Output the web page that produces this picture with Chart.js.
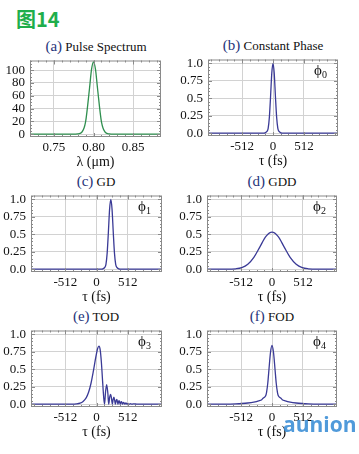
<!DOCTYPE html>
<html>
<head>
<meta charset="utf-8">
<script src="https://cdn.jsdelivr.net/npm/chart.js@4.4.0/dist/chart.umd.min.js"></script>
<style>
  body { margin: 0; background: #fff; width: 359px; height: 454px; position: relative; overflow: hidden; font-family: "Liberation Serif", serif; }
  canvas { position: absolute; }
  .ttl { position: absolute; font-size: 13px; color: #111; white-space: nowrap; transform: translate(-50%, -50%); }
  .ttl span { font-size: 15px; color: #26337a; }
  #head { position: absolute; left: 16px; top: 4px; font: bold 20px "Noto Sans CJK SC", sans-serif; color: #1fae4b; }
  #wm { position: absolute; left: 283px; top: 410px; font: bold 21px "Open Sans", sans-serif; color: #3d8fd6; opacity: 0.9; }
</style>
</head>
<body>
<div id="head">图14</div>

<div class="ttl" style="left:96px;top:46px"><span>(a)</span> Pulse Spectrum</div>
<div class="ttl" style="left:273px;top:45px"><span>(b)</span> Constant Phase</div>
<div class="ttl" style="left:96px;top:181px"><span>(c)</span> GD</div>
<div class="ttl" style="left:272px;top:181px"><span>(d)</span> GDD</div>
<div class="ttl" style="left:96px;top:316px"><span>(e)</span> TOD</div>
<div class="ttl" style="left:272px;top:316px"><span>(f)</span> FOD</div>

<canvas id="cA" width="167" height="122" style="left:0px;top:49px"></canvas>
<canvas id="cB" width="166" height="122" style="left:178px;top:48px"></canvas>
<canvas id="cC" width="167" height="122" style="left:1px;top:184px"></canvas>
<canvas id="cD" width="166" height="122" style="left:177px;top:184px"></canvas>
<canvas id="cE" width="167" height="122" style="left:1px;top:319px"></canvas>
<canvas id="cF" width="166" height="122" style="left:177px;top:319px"></canvas>

<div id="wm">aunion</div>

<script>
// (a) pulse spectrum
const lambda = [0.72, 0.77, 0.775, 0.78, 0.785, 0.79, 0.795, 0.7975, 0.80, 0.8025, 0.805, 0.81, 0.815, 0.82, 0.825, 0.83, 0.885];
const spectrum = [0, 0, 0, 0.3, 2.5, 19, 72, 101, 113, 101, 72, 19, 2.5, 0.3, 0, 0, 0];

// (b) constant phase
const tau0 = [-1075, -200, -160, -130, -100, -80, -60, -40, -20, 0, 20, 40, 60, 80, 100, 130, 160, 200, 1075];
const amp0 = [0, 0, 0.002, 0.006, 0.025, 0.07, 0.23, 0.53, 0.86, 1.0, 0.86, 0.53, 0.23, 0.07, 0.025, 0.006, 0.002, 0, 0];

// (c) GD
const tau1 = [-1075, 35, 75, 105, 135, 155, 175, 195, 215, 235, 255, 275, 295, 315, 335, 365, 395, 435, 1075];
const amp1 = [0, 0, 0.002, 0.006, 0.025, 0.07, 0.23, 0.53, 0.86, 1.0, 0.86, 0.53, 0.23, 0.07, 0.025, 0.006, 0.002, 0, 0];

// (d) GDD
const tau2 = [-1075, -750, -600, -500, -400, -300, -200, -100, 0, 100, 200, 300, 400, 500, 600, 750, 1075];
const amp2 = [0, 0, 0.006, 0.023, 0.072, 0.17, 0.32, 0.47, 0.53, 0.47, 0.32, 0.17, 0.072, 0.023, 0.006, 0, 0];

// (e) TOD
const tau3 = [-1075, -400, -330, -270, -220, -170, -130, -90, -50, -10, 20, 40, 60, 80, 100, 118, 132, 148, 167, 186, 200,
  216, 232, 248, 260, 273, 286, 299, 310, 322, 334, 344, 353, 363, 372, 381, 390, 400, 410, 419, 428, 438, 447, 456, 465,
  475, 484, 493, 502, 520, 540, 560, 580, 600, 640, 700, 1075];
const amp3 = [0, 0, 0.004, 0.015, 0.04, 0.09, 0.17, 0.3, 0.48, 0.68, 0.8, 0.83, 0.78, 0.6, 0.33, 0.1, 0, 0.17, 0.28, 0.16, 0,
  0.1, 0.14, 0.07, 0, 0.07, 0.1, 0.05, 0, 0.05, 0.07, 0.035, 0, 0.04, 0.05, 0.025, 0, 0.03, 0.035, 0.015, 0, 0.022, 0.025, 0.01, 0,
  0.015, 0.018, 0.008, 0, 0.012, 0, 0.008, 0, 0.005, 0.003, 0, 0];

// (f) FOD
const tau4 = [-1075, -800, -600, -500, -400, -300, -220, -170, -148, -125, -105, -90, -70, -50, -25, 0, 25, 50, 70, 90, 105, 125, 148, 170, 220, 300, 400, 500, 600, 800, 1075];
const amp4 = [0, 0.002, 0.006, 0.01, 0.017, 0.03, 0.048, 0.065, 0.085, 0.1, 0.12, 0.17, 0.3, 0.5, 0.74, 0.84, 0.74, 0.5, 0.3, 0.17, 0.12, 0.1, 0.085, 0.065, 0.048, 0.03, 0.017, 0.01, 0.006, 0.002, 0];

// ticks
const lambdaTicks = [0.75, 0.80, 0.85];
const lambdaLabels = ['0.75', '0.80', '0.85'];
const spectrumTicks = [0, 20, 40, 60, 80, 100];
const spectrumLabels = ['0', '20', '40', '60', '80', '100'];
const tauTicks = [-512, 0, 512];
const tauLabels = ['-512', '0', '512'];
const ampTicks = [0, 0.25, 0.5, 0.75, 1];
const ampLabels = ['0.0', '0.25', '0.5', '0.75', '1.0'];

const blue = '#3a3a96';
const green = '#2f8f4f';
const serif = '"Liberation Serif", serif';

// frame with inward ticks on all sides, plus the phi label
const frameTicks = {
  id: 'frameTicks',
  afterDatasetsDraw(chart, args, o) {
    const { ctx, chartArea: a, scales: { x, y } } = chart;
    ctx.save();
    ctx.strokeStyle = '#8a8a8a';
    ctx.lineWidth = 1;
    ctx.strokeRect(a.left + 0.5, a.top + 0.5, a.right - a.left - 1, a.bottom - a.top - 1);
    ctx.beginPath();
    const xs = (v, len) => {
      const p = Math.round(x.getPixelForValue(v)) + 0.5;
      ctx.moveTo(p, a.bottom); ctx.lineTo(p, a.bottom - len);
      ctx.moveTo(p, a.top); ctx.lineTo(p, a.top + len);
    };
    const ys = (v, len) => {
      const p = Math.round(y.getPixelForValue(v)) + 0.5;
      ctx.moveTo(a.left, p); ctx.lineTo(a.left + len, p);
      ctx.moveTo(a.right, p); ctx.lineTo(a.right - len, p);
    };
    for (let v = o.xFrom; v <= x.max; v += o.xStep) xs(v, 2);
    for (let v = o.yFrom; v <= y.max; v += o.yStep) ys(v, 2);
    x.ticks.forEach(t => xs(t.value, 4));
    y.ticks.forEach(t => ys(t.value, 4));
    ctx.stroke();
    if (o.phi) {
      ctx.fillStyle = '#111';
      ctx.textBaseline = 'middle';
      ctx.font = '15px ' + serif;
      ctx.fillText('ϕ', a.right - 24, a.top + 12);
      ctx.font = '10px ' + serif;
      ctx.fillText(o.phi, a.right - 16, a.top + 16);
    }
    ctx.restore();
  }
};

function makeChart(id, xs, ys, color, opt) {
  const pts = xs.map((v, i) => ({ x: v, y: ys[i] }));
  return new Chart(document.getElementById(id), {
    type: 'line',
    data: {
      datasets: [{
        data: pts,
        borderColor: color,
        borderWidth: 1.3,
        pointRadius: 0,
        cubicInterpolationMode: 'monotone',
        fill: false
      }]
    },
    options: {
      responsive: false,
      animation: false,
      devicePixelRatio: 1,
      layout: { padding: { top: 8, right: 6, left: 0, bottom: 0 } },
      plugins: {
        legend: { display: false },
        tooltip: { enabled: false },
        frameTicks: opt.frame
      },
      scales: {
        x: {
          type: 'linear',
          min: opt.xMin,
          max: opt.xMax,
          afterBuildTicks: s => { s.ticks = opt.xTicks.map(v => ({ value: v })); },
          afterFit: s => { s.height = 34; },
          ticks: {
            callback: (v, i) => opt.xLabels[i],
            font: { family: serif, size: 13, lineHeight: 1 },
            color: '#111',
            padding: 4,
            maxRotation: 0,
            autoSkip: false
          },
          grid: { color: '#d2d2d2', drawTicks: false },
          border: { display: false },
          title: {
            display: true,
            text: opt.xTitle,
            font: { family: serif, size: 14, lineHeight: 1 },
            color: '#111',
            padding: { top: 0, bottom: 2 }
          }
        },
        y: {
          min: opt.yMin,
          max: opt.yMax,
          afterBuildTicks: s => { s.ticks = opt.yTicks.map(v => ({ value: v })); },
          afterFit: s => { s.width = 30; },
          ticks: {
            callback: (v, i) => opt.yLabels[i],
            font: { family: serif, size: 13, lineHeight: 1 },
            color: '#111',
            padding: 5,
            autoSkip: false
          },
          grid: { color: '#d2d2d2', drawTicks: false },
          border: { display: false }
        }
      }
    },
    plugins: [frameTicks]
  });
}

const tauOpt = phi => ({
  xMin: -1075, xMax: 1075, yMin: -0.04, yMax: 1.055,
  xTicks: tauTicks, xLabels: tauLabels, yTicks: ampTicks, yLabels: ampLabels,
  xTitle: 'τ (fs)',
  frame: { xFrom: -1024, xStep: 128, yFrom: 0, yStep: 0.05, phi: phi }
});

makeChart('cA', lambda, spectrum, green, {
  xMin: 0.72, xMax: 0.885, yMin: -4.5, yMax: 115,
  xTicks: lambdaTicks, xLabels: lambdaLabels, yTicks: spectrumTicks, yLabels: spectrumLabels,
  xTitle: 'λ (μm)',
  frame: { xFrom: 0.72, xStep: 0.01, yFrom: 0, yStep: 5, phi: null }
});
makeChart('cB', tau0, amp0, blue, tauOpt('0'));
makeChart('cC', tau1, amp1, blue, tauOpt('1'));
makeChart('cD', tau2, amp2, blue, tauOpt('2'));
makeChart('cE', tau3, amp3, blue, tauOpt('3'));
makeChart('cF', tau4, amp4, blue, tauOpt('4'));
</script>
</body>
</html>
